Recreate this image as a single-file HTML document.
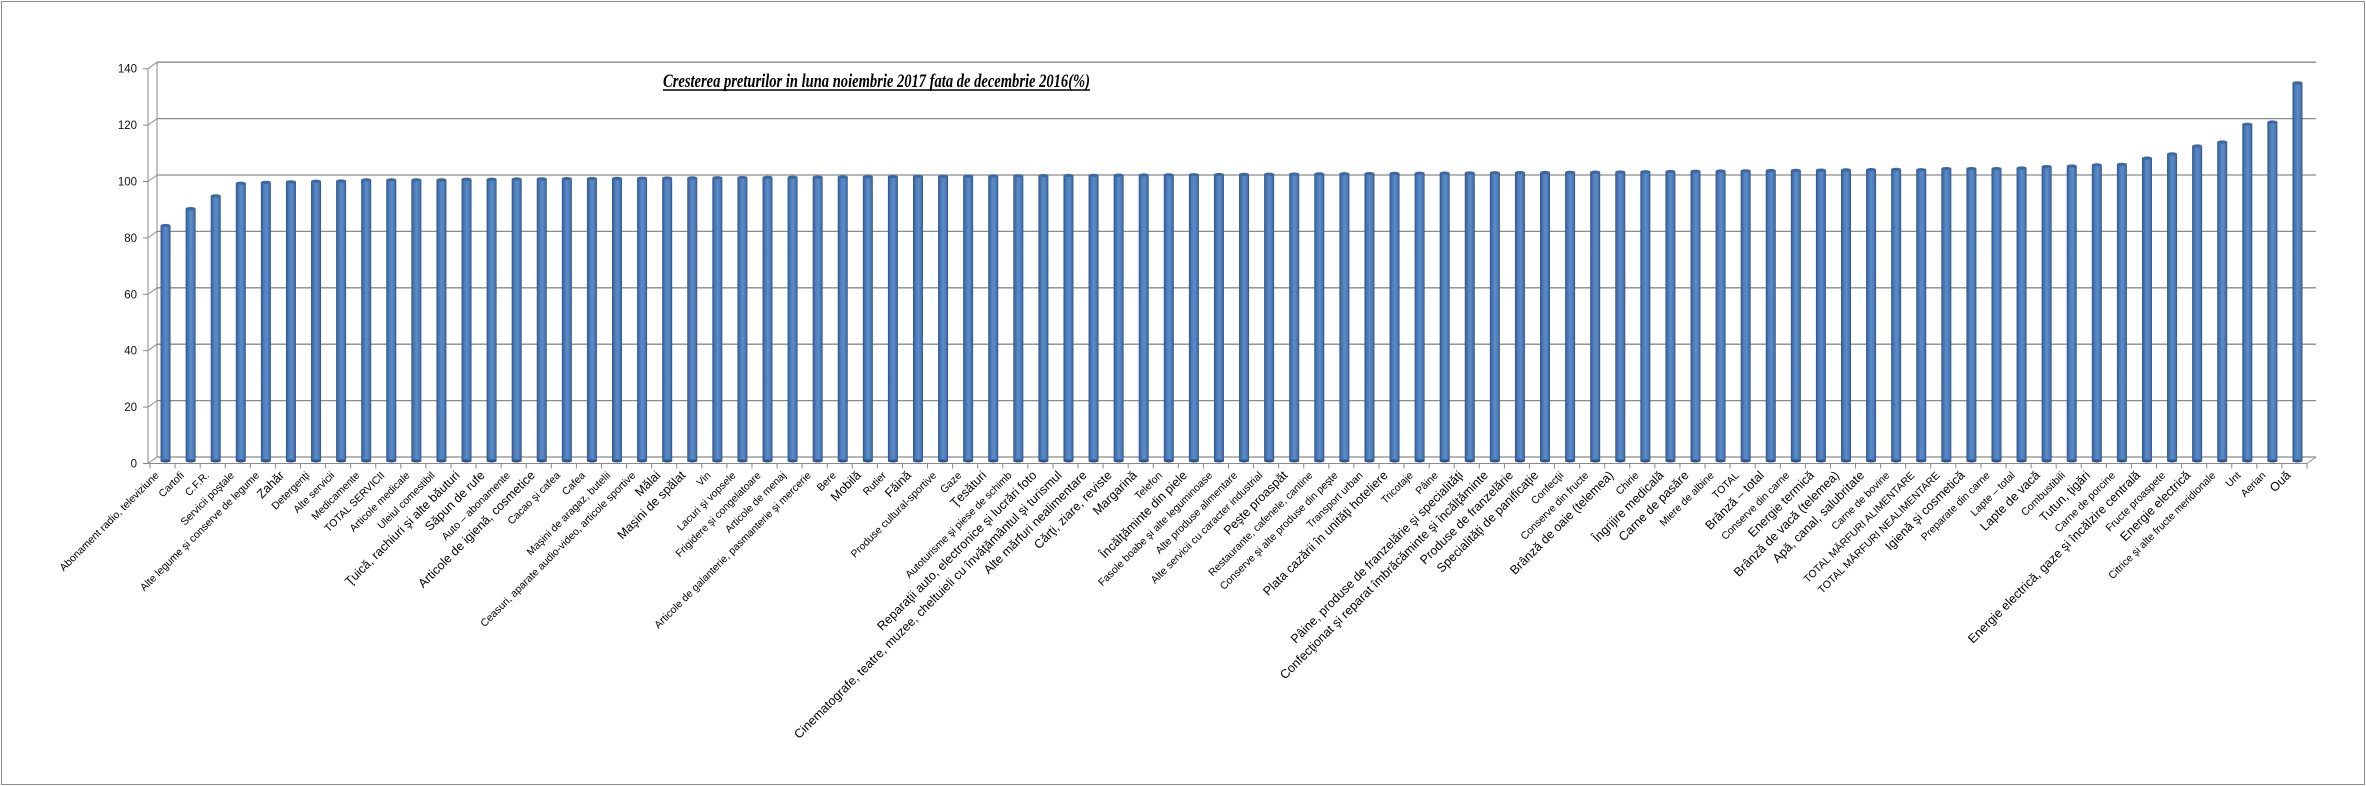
<!DOCTYPE html>
<html><head><meta charset="utf-8"><style>
html,body{margin:0;padding:0;background:#fff;}
svg{display:block;}
</style></head><body>
<svg id="s" width="2366" height="786" xmlns="http://www.w3.org/2000/svg" font-family="Liberation Sans, DejaVu Sans, sans-serif">
<defs>
<linearGradient id="g" x1="0" x2="1" y1="0" y2="0">
<stop offset="0" stop-color="#2f5487"/><stop offset="0.25" stop-color="#4a78b5"/><stop offset="0.55" stop-color="#5b8ccb"/><stop offset="0.85" stop-color="#4674af"/><stop offset="1" stop-color="#2c4f80"/>
</linearGradient>
</defs>
<rect x="1.5" y="1.5" width="2363" height="783" fill="#fff" stroke="#8c8c8c" stroke-width="1"/>
<g id="grid"></g>
<text x="663" y="87" font-family="Liberation Serif, serif" font-style="italic" font-weight="bold" font-size="19" textLength="427" lengthAdjust="spacingAndGlyphs" fill="#000">Cresterea preturilor in luna noiembrie 2017 fata de decembrie 2016(%)</text>
<line x1="663" y1="90" x2="1090" y2="90" stroke="#000" stroke-width="1.5"/>
<g id="bars"></g>
<g id="labels"></g>
</svg>
<script>
(function(){
var L=["Abonament radio, televiziune","Cartofi","C.F.R.","Servicii poştale","Alte legume şi conserve de legume","Zahăr","Detergenţi","Alte servicii","Medicamente","TOTAL SERVICII","Articole medicale","Uleiul comestibil","Ţuică, rachiuri şi alte băuturi","Săpun de rufe","Auto – abonamente","Articole de igienă, cosmetice","Cacao şi cafea","Cafea","Maşini de aragaz, butelii","Ceasuri, aparate audio-video, articole sportive","Mălai","Maşini de spălat","Vin","Lacuri şi vopsele","Frigidere şi congelatoare","Articole de menaj","Articole de galanterie, pasmanterie şi mercerie","Bere","Mobilă","Rutier","Făină","Produse cultural-sportive","Gaze","Ţesături","Autoturisme şi piese de schimb","Reparaţii auto, electronice şi lucrări foto","Cinematografe, teatre, muzee, cheltuieli cu învăţământul şi turismul","Alte mărfuri nealimentare","Cărţi, ziare, reviste","Margarină","Telefon","Încălţăminte din piele","Fasole boabe şi alte leguminoase","Alte produse alimentare","Alte servicii cu caracter industrial","Peşte proaspăt","Restaurante, cafenele, cantine","Conserve şi alte produse din peşte","Transport urban","Plata cazării în unităţi hoteliere","Tricotaje","Pâine","Pâine, produse de franzelărie şi specialităţi","Confecţionat şi reparat îmbrăcăminte şi încălţăminte","Produse de franzelărie","Specialităţi de panificaţie","Confecţii","Conserve din fructe","Brânză de oaie (telemea)","Chirie","Îngrijire medicală","Carne de pasăre","Miere de albine","TOTAL","Brânză – total","Conserve din carne","Energie termică","Brânză de vacă (telemea)","Apă, canal, salubritate","Carne de bovine","TOTAL MĂRFURI ALIMENTARE","TOTAL MĂRFURI NEALIMENTARE","Igienă şi cosmetică","Preparate din carne","Lapte – total","Lapte de vacă","Combustibili","Tutun, ţigări","Carne de porcine","Energie electrică, gaze şi încălzire centrală","Fructe proaspete","Energie electrică","Citrice şi alte fructe meridionale","Unt","Aerian","Ouă"];
var big={5:1,12:1,13:1,15:1,20:1,21:1,28:1,30:1,33:1,35:1,36:1,37:1,38:1,39:1,41:1,45:1,49:1,52:1,53:1,54:1,55:1,58:1,60:1,61:1,64:1,66:1,67:1,68:1,72:1,75:1,77:1,79:1,81:1,85:1};
var first=[82.8,88.8,93.3,97.8,98.1,98.3,98.5,98.6,99.0,99.0,99.0,99.0,99.2,99.2];
var last=[102.6,103,103,103,103.2,103.7,103.9,104.3,104.5,106.7,108.2,111,112.4,118.7,119.5,133.4];
var V=first.slice();
for(var i=14;i<70;i++){var t=(i-14)/55;V.push(99.3+t*3.1+(t>0.8?(t-0.8)*1.5:0));}
V=V.concat(last);
var ns="http://www.w3.org/2000/svg";
function el(p,n,a,txt){var e=document.createElementNS(ns,n);for(var k in a)e.setAttribute(k,a[k]);if(txt!=null)e.textContent=txt;p.appendChild(e);return e;}
var G=document.getElementById('grid'),B=document.getElementById('bars'),T=document.getElementById('labels');
var sc=2.82,base=457;
for(var k=0;k<=7;k++){var y=base-k*20*sc;
 el(G,'line',{x1:157,y1:y,x2:2316,y2:y,stroke:'#8a8a8a','stroke-width':1.3});
 el(G,'line',{x1:148,y1:y+6.5,x2:157,y2:y,stroke:'#8a8a8a','stroke-width':1});
 el(G,'line',{x1:143,y1:y+6.5,x2:148,y2:y+6.5,stroke:'#8a8a8a','stroke-width':1});
 el(G,'text',{x:137,y:y+10.5,'text-anchor':'end','font-size':11.5,fill:'#111'},String(k*20));
}
el(G,'line',{x1:157,y1:62,x2:157,y2:457,stroke:'#8a8a8a','stroke-width':1});
el(G,'line',{x1:148,y1:68.5,x2:148,y2:463.5,stroke:'#8a8a8a','stroke-width':1});
el(G,'line',{x1:148,y1:463.5,x2:2307,y2:463.5,stroke:'#8a8a8a','stroke-width':1});
el(G,'line',{x1:2307,y1:463.5,x2:2316,y2:457,stroke:'#8a8a8a','stroke-width':1});
var sp=(2307-150)/86;
for(var k=0;k<=86;k++){var x=150+sp*k;el(G,'line',{x1:x,y1:463.5,x2:x,y2:468.5,stroke:'#8a8a8a','stroke-width':1});}
for(var i=0;i<86;i++){
 var c=150+sp*(i+0.5)+3, ty=base+2-V[i]*sc, bot=461;
 el(B,'rect',{x:c-5,y:ty,width:10,height:bot-ty,fill:'url(#g)'});
 el(B,'ellipse',{cx:c,cy:bot,rx:5,ry:1.5,fill:'#2f5487'});
 el(B,'ellipse',{cx:c,cy:ty,rx:5,ry:1.6,fill:'#3d679f'});
 var lx=150+sp*(i+0.5)-3, ly=476;
 el(T,'text',{x:lx,y:ly,'text-anchor':'end','font-size':big[i]?12.5:10.5,fill:'#000',transform:'rotate(-45 '+lx+' '+ly+')'},L[i]);
}
})();
</script>
</body></html>
